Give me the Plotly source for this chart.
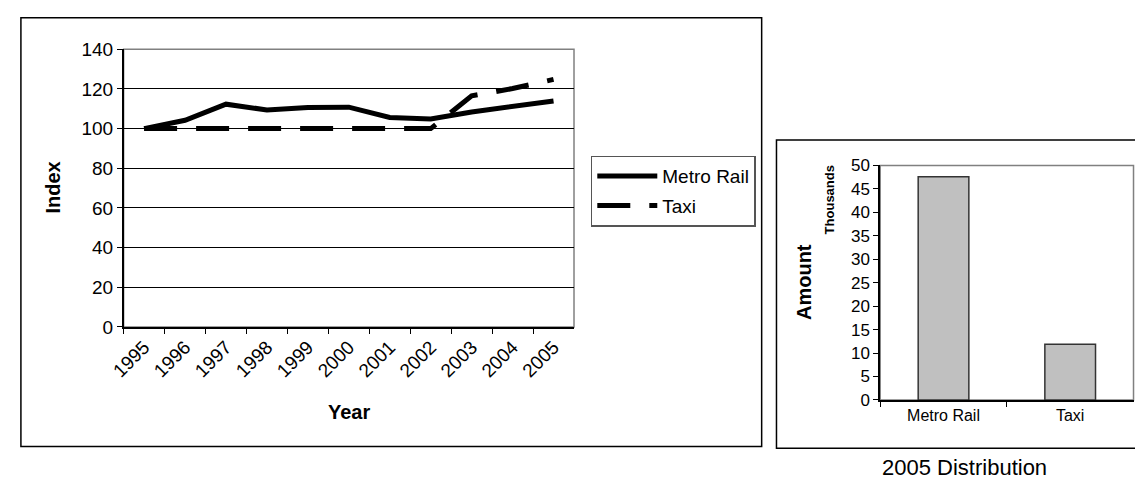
import plotly.graph_objects as go

# Index series, 1995 = 100
years = ["1995", "1996", "1997", "1998", "1999", "2000",
         "2001", "2002", "2003", "2004", "2005"]
metro_rail = [100, 104.2, 112.3, 109.4, 110.6, 110.8, 105.6, 104.8, 108.4, 111.1, 113.9]
taxi = [100, 100, 100, 100, 100, 100, 100, 100, 116.5, 120.2, 124.8]

# 2005 distribution (raw amounts)
modes = ["Metro Rail", "Taxi"]
amounts_2005 = [47600, 11900]

W, H = 1135, 493


def px_x(v):
    return v / W


def px_y(v):
    return 1 - v / H


FONT = "Arial, Liberation Sans, sans-serif"

fig = go.Figure()

fig.add_trace(go.Scatter(
    x=years, y=metro_rail, name="Metro Rail", mode="lines",
    line=dict(color="black", width=5), xaxis="x", yaxis="y",
    legendgroup="a",
))
fig.add_trace(go.Scatter(
    x=years, y=taxi, name="Taxi", mode="lines",
    line=dict(color="black", width=5, dash="33px,19px"), xaxis="x", yaxis="y",
    legendgroup="b",
))
fig.add_trace(go.Bar(
    x=modes, y=[a / 1000 for a in amounts_2005], showlegend=False,
    marker=dict(color="#c0c0c0", line=dict(color="#333333", width=1.5)),
    xaxis="x2", yaxis="y2",
))

# plot-area rectangles (gray borders drawn under the axes)
shapes = [
    dict(type="rect", xref="paper", yref="paper",
         x0=px_x(111), x1=px_x(567), y0=px_y(331), y1=px_y(41),
         line=dict(color="#808080", width=1.5), layer="below"),
    dict(type="rect", xref="paper", yref="paper",
         x0=px_x(877), x1=px_x(1133.5), y0=px_y(407.3), y1=px_y(162.3),
         line=dict(color="#808080", width=1.5), layer="below"),
    # chart frames
    dict(type="rect", xref="paper", yref="paper",
         x0=px_x(7), x1=px_x(757), y0=px_y(456), y1=px_y(8),
         line=dict(color="black", width=1.5)),
    dict(type="rect", xref="paper", yref="paper",
         x0=px_x(772), x1=px_x(1145), y0=px_y(457.7), y1=px_y(135.7),
         line=dict(color="black", width=1.5)),
]

annotations = [
    dict(text="<b>Year</b>", x=px_x(339), y=px_y(420), xref="paper", yref="paper",
         showarrow=False, font=dict(size=20, color="black", family=FONT),
         xanchor="center", yanchor="middle"),
    dict(text="<b>Index</b>", x=px_x(40), y=px_y(186), xref="paper", yref="paper",
         showarrow=False, textangle=-90, font=dict(size=20, color="black", family=FONT),
         xanchor="center", yanchor="middle"),
    dict(text="<b>Amount</b>", x=px_x(800), y=px_y(284), xref="paper", yref="paper",
         showarrow=False, textangle=-90, font=dict(size=20, color="black", family=FONT),
         xanchor="center", yanchor="middle"),
    dict(text="<b>Thousands</b>", x=px_x(826), y=px_y(198), xref="paper", yref="paper",
         showarrow=False, textangle=-90, font=dict(size=13, color="black", family=FONT),
         xanchor="center", yanchor="middle"),
    dict(text="2005 Distribution", x=px_x(962), y=px_y(478), xref="paper", yref="paper",
         showarrow=False, font=dict(size=22, color="black", family=FONT),
         xanchor="center", yanchor="middle"),
]

fig.update_layout(
    width=W, height=H,
    margin=dict(l=0, r=0, t=0, b=0),
    paper_bgcolor="white", plot_bgcolor="white",
    font=dict(family=FONT, color="black"),
    showlegend=True,
    legend=dict(
        x=px_x(584), y=px_y(152), xanchor="left", yanchor="top",
        bordercolor="#555555", borderwidth=1.5, bgcolor="white",
        font=dict(size=19, color="black", family=FONT),
        itemwidth=60, tracegroupgap=2, traceorder="grouped",
    ),
    xaxis=dict(
        domain=[px_x(111), px_x(567)], anchor="y",
        type="category", range=[-0.5, 10.5],
        showline=True, linecolor="black", linewidth=1.5,
        ticks="outside", ticklen=5, tickcolor="black", tickson="boundaries",
        tickangle=-45, tickfont=dict(size=19), showgrid=False, zeroline=False,
        fixedrange=True,
    ),
    yaxis=dict(
        domain=[px_y(331), px_y(41)], anchor="x",
        range=[0, 140], dtick=20,
        showline=True, linecolor="black", linewidth=1.5,
        ticks="outside", ticklen=5, tickcolor="black",
        tickfont=dict(size=19), showgrid=True, gridcolor="black", gridwidth=1,
        zeroline=False, fixedrange=True,
    ),
    xaxis2=dict(
        domain=[px_x(877), px_x(1133.5)], anchor="y2",
        type="category", range=[-0.5, 1.5],
        showline=True, linecolor="black", linewidth=1.5,
        ticks="outside", ticklen=5, tickcolor="black", tickson="boundaries",
        tickfont=dict(size=16), showgrid=False, zeroline=False, fixedrange=True,
    ),
    yaxis2=dict(
        domain=[px_y(407.3), px_y(162.3)], anchor="x2",
        range=[0, 50], dtick=5,
        showline=True, linecolor="black", linewidth=1.5,
        ticks="outside", ticklen=5, tickcolor="black",
        tickfont=dict(size=17), showgrid=False, zeroline=False, fixedrange=True,
    ),
    bargap=0.6,
    shapes=shapes,
    annotations=annotations,
)

# write the page with the default body margin removed so the figure sits at (0, 0)
html = fig.to_html(include_plotlyjs=True, full_html=True)
html = html.replace("<body>", '<body style="margin:0;overflow:hidden">', 1)
with open("out.html", "w", encoding="utf-8") as f:
    f.write(html)
